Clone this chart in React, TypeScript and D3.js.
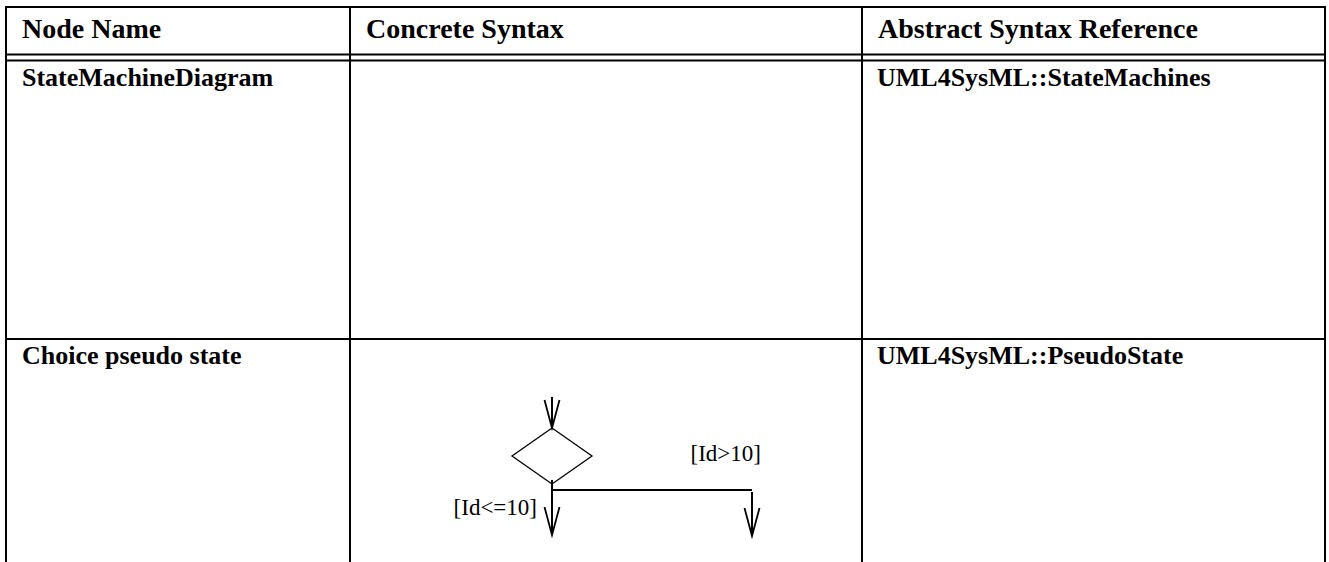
import React, { useEffect, useRef } from 'react';
import * as d3 from 'd3';

const columns = ['Node Name', 'Concrete Syntax', 'Abstract Syntax Reference'];
const nodeNames = ['StateMachineDiagram', 'Choice pseudo state'];
const abstractRefs = ['UML4SysML::StateMachines', 'UML4SysML::PseudoState'];
const guards = ['[Id<=10]', '[Id>10]'];

const W = 1329;
const H = 562;

function App() {
  const ref = useRef<SVGSVGElement | null>(null);

  useEffect(() => {
    const svg = d3.select(ref.current);
    svg.selectAll('*').remove();

    // column edges and row edges of the table
    const colX = [6, 350, 862, 1325];
    const rowY = [7, 54.5, 60.5, 339, H + 10];

    const g = svg.append('g').attr('stroke', '#000').attr('fill', 'none');
    // outer top
    g.append('line').attr('x1', colX[0]).attr('x2', colX[3]).attr('y1', rowY[0]).attr('y2', rowY[0]).attr('stroke-width', 2);
    // double rule under header
    g.append('line').attr('x1', colX[0]).attr('x2', colX[3]).attr('y1', rowY[1]).attr('y2', rowY[1]).attr('stroke-width', 2);
    g.append('line').attr('x1', colX[0]).attr('x2', colX[3]).attr('y1', rowY[2]).attr('y2', rowY[2]).attr('stroke-width', 2);
    // row divider
    g.append('line').attr('x1', colX[0]).attr('x2', colX[3]).attr('y1', rowY[3]).attr('y2', rowY[3]).attr('stroke-width', 2);
    // vertical rules
    colX.forEach((x) => {
      g.append('line').attr('x1', x).attr('x2', x).attr('y1', rowY[0] - 1).attr('y2', H).attr('stroke-width', 2);
    });

    const font = '"Liberation Serif", "Times New Roman", serif';

    // header
    svg.selectAll('text.head')
      .data(columns)
      .enter()
      .append('text')
      .attr('class', 'head')
      .attr('x', (_, i) => colX[i] + 16)
      .attr('y', 38)
      .attr('font-family', font)
      .attr('font-weight', 'bold')
      .attr('font-size', 28)
      .text((d) => d);

    const rowTop = [rowY[2], rowY[3]];
    svg.selectAll('text.name')
      .data(nodeNames)
      .enter()
      .append('text')
      .attr('class', 'name')
      .attr('x', colX[0] + 16)
      .attr('y', (_, i) => rowTop[i] + 25)
      .attr('font-family', font)
      .attr('font-weight', 'bold')
      .attr('font-size', 26)
      .text((d) => d);

    svg.selectAll('text.ref')
      .data(abstractRefs)
      .enter()
      .append('text')
      .attr('class', 'ref')
      .attr('x', colX[2] + 15)
      .attr('y', (_, i) => rowTop[i] + 25)
      .attr('font-family', font)
      .attr('font-weight', 'bold')
      .attr('font-size', 26)
      .text((d) => d);

    // choice pseudo state diagram
    const cx = 552;
    const cy = 456;
    const dx = 40;
    const dy = 28;
    const branchY = 490;
    const rightX = 752;
    const d = svg.append('g').attr('stroke', '#000').attr('fill', 'none');

    const arrow = (x: number, y1: number, y2: number) => {
      d.append('line').attr('x1', x).attr('x2', x).attr('y1', y1).attr('y2', y2).attr('stroke-width', 2);
      d.append('path')
        .attr('d', d3.line()([[x - 7.5, y2 - 28], [x, y2], [x + 7.5, y2 - 28]]))
        .attr('stroke-width', 1.8);
    };

    arrow(cx, 397, cy - dy);
    d.append('path')
      .attr('d', d3.line()([[cx, cy - dy], [cx + dx, cy], [cx, cy + dy], [cx - dx, cy]]) + 'Z')
      .attr('stroke-width', 1.3);
    arrow(cx, cy + dy - 4, 535);
    d.append('line').attr('x1', cx).attr('x2', rightX).attr('y1', branchY).attr('y2', branchY).attr('stroke-width', 2);
    arrow(rightX, branchY + 2, 536);

    svg.append('text')
      .attr('x', 537)
      .attr('y', 515)
      .attr('text-anchor', 'end')
      .attr('font-family', font)
      .attr('font-size', 23)
      .text(guards[0]);
    svg.append('text')
      .attr('x', 761)
      .attr('y', 461)
      .attr('text-anchor', 'end')
      .attr('font-family', font)
      .attr('font-size', 23)
      .text(guards[1]);
  }, []);

  return (
    <svg
      ref={ref}
      width={W}
      height={H}
      style={{ position: 'absolute', left: 0, top: 0, background: '#fff' }}
    />
  );
}

export default App;
